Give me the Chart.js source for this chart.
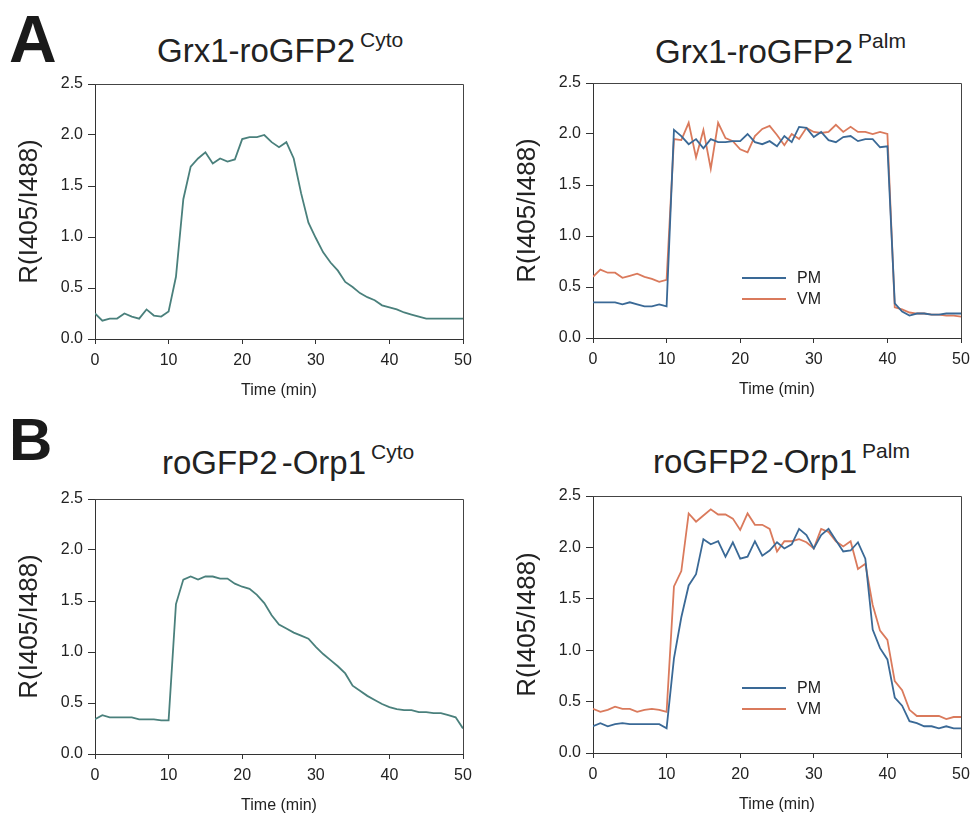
<!DOCTYPE html>
<html>
<head>
<meta charset="utf-8">
<script src="https://cdn.jsdelivr.net/npm/chart.js@4.4.1/dist/chart.umd.min.js"></script>
<style>
  body { margin: 0; background: #fff; width: 970px; height: 815px; position: relative; overflow: hidden;
         font-family: "Liberation Sans", Arial, sans-serif; color: #222; }
  canvas { position: absolute; }
  .letter { position: absolute; font-weight: bold; line-height: 1; color: #1a1a1a; }
  .title { position: absolute; font-size: 33px; line-height: 1; white-space: nowrap; color: #222; }
  .title span { font-size: 21px; position: relative; top: -15px; margin-left: 5px; }
  .tight { word-spacing: -5px; }
</style>
</head>
<body>
<div class="letter" style="left:9px; top:6px; font-size:66px;">A</div>
<div class="letter" style="left:9px; top:410px; font-size:60px;">B</div>

<div class="title" style="left:157px; top:34px;">Grx1-roGFP2<span>Cyto</span></div>
<div class="title" style="left:655px; top:35px;">Grx1-roGFP2<span>Palm</span></div>
<div class="title tight" style="left:162px; top:446px;">roGFP2 -Orp1<span>Cyto</span></div>
<div class="title tight" style="left:653px; top:445px;">roGFP2 -Orp1<span>Palm</span></div>

<canvas id="cA1" width="475" height="335" style="left:0px; top:74px;"></canvas>
<canvas id="cA2" width="472" height="335" style="left:498px; top:73px;"></canvas>
<canvas id="cB1" width="475" height="335" style="left:0px; top:489px;"></canvas>
<canvas id="cB2" width="472" height="337" style="left:498px; top:486px;"></canvas>

<script>
// time points (min)
const times = [0,1,2,3,4,5,6,7,8,9,10,11,12,13,14,15,16,17,18,19,20,21,22,23,24,25,
  26,27,28,29,30,31,32,33,34,35,36,37,38,39,40,41,42,43,44,45,46,47,48,49,50];

const xTicks = [0, 10, 20, 30, 40, 50];
const yTicks = [0, 0.5, 1.0, 1.5, 2.0, 2.5];

// Grx1-roGFP2 Cyto
const grxCyto = [0.25,0.18,0.20,0.20,0.25,0.22,0.20,0.29,0.23,0.22,0.27,
  0.61,1.37,1.69,1.77,1.83,1.72,1.77,1.74,1.76,1.96,
  1.98,1.98,2.00,1.93,1.88,1.93,1.77,1.43,1.14,0.99,
  0.85,0.75,0.67,0.56,0.51,0.45,0.41,0.38,0.33,0.31,
  0.29,0.26,0.24,0.22,0.20,0.20,0.20,0.20,0.20,0.20];

// Grx1-roGFP2 Palm
const grxPM = [0.35,0.35,0.35,0.35,0.33,0.35,0.33,0.31,0.31,0.33,0.31,
  2.04,1.98,1.90,1.95,1.86,1.95,1.92,1.92,1.93,1.93,
  2.00,1.92,1.90,1.93,1.88,1.98,1.92,2.07,2.06,1.97,
  2.02,1.94,1.92,1.97,1.98,1.93,1.95,1.95,1.87,1.88,
  0.34,0.26,0.22,0.24,0.24,0.23,0.23,0.24,0.24,0.24];
const grxVM = [0.60,0.67,0.64,0.64,0.59,0.61,0.63,0.60,0.58,0.55,0.57,
  1.95,1.94,2.11,1.77,2.04,1.66,2.11,1.96,1.93,1.85,
  1.82,1.98,2.05,2.08,1.99,1.89,2.00,1.95,2.06,2.02,
  2.01,2.02,2.09,2.02,2.07,2.02,2.02,2.00,2.02,2.00,
  0.30,0.28,0.25,0.24,0.24,0.23,0.23,0.22,0.22,0.21];

// roGFP2-Orp1 Cyto
const orpCyto = [0.34,0.38,0.36,0.36,0.36,0.36,0.34,0.34,0.34,0.33,0.33,
  1.47,1.71,1.74,1.71,1.74,1.74,1.72,1.72,1.67,1.64,
  1.62,1.56,1.48,1.36,1.27,1.23,1.19,1.16,1.13,1.05,
  0.98,0.92,0.86,0.79,0.67,0.62,0.57,0.53,0.49,0.46,
  0.44,0.43,0.43,0.41,0.41,0.40,0.40,0.38,0.36,0.25];

// roGFP2-Orp1 Palm
const orpPM = [0.26,0.29,0.26,0.28,0.29,0.28,0.28,0.28,0.28,0.28,0.24,
  0.92,1.32,1.63,1.74,2.08,2.03,2.06,1.91,2.05,1.89,
  1.91,2.06,1.92,1.97,2.05,1.99,2.03,2.18,2.12,1.99,
  2.12,2.18,2.07,1.96,1.97,2.05,1.89,1.20,1.02,0.91,
  0.54,0.46,0.31,0.29,0.26,0.26,0.24,0.26,0.24,0.24];
const orpVM = [0.43,0.40,0.42,0.45,0.43,0.43,0.40,0.42,0.43,0.42,0.40,
  1.62,1.77,2.33,2.25,2.31,2.37,2.32,2.32,2.28,2.17,
  2.33,2.22,2.22,2.18,1.96,2.06,2.06,2.08,2.05,1.99,
  2.18,2.15,2.06,2.01,2.06,1.79,1.84,1.44,1.19,1.10,
  0.70,0.61,0.42,0.36,0.36,0.36,0.36,0.33,0.35,0.35];

const TEAL = '#4a807c', BLUE = '#3a6996', ORANGE = '#da7a5c';
const FONT = '"Liberation Sans", Arial, sans-serif';

function pts(vals) {
  return vals.map((v, i) => ({ x: times[i], y: v }));
}

// top + right edges of the plot box
const boxPlugin = {
  id: 'box',
  afterDraw(chart) {
    const { ctx, chartArea: a } = chart;
    ctx.save();
    ctx.strokeStyle = '#444';
    ctx.lineWidth = 1;
    ctx.beginPath();
    ctx.moveTo(a.left, a.top + 0.5);
    ctx.lineTo(a.right + 0.5, a.top + 0.5);
    ctx.lineTo(a.right + 0.5, a.bottom);
    ctx.stroke();
    ctx.restore();
  }
};

// small legend placed inside the plot
const innerLegend = {
  id: 'innerLegend',
  afterDraw(chart, args, opts) {
    if (!opts.show) return;
    const { ctx, chartArea: a } = chart;
    ctx.save();
    ctx.font = '16px ' + FONT;
    ctx.textBaseline = 'middle';
    chart.data.datasets.forEach((ds, i) => {
      const y = a.top + opts.y + i * 21;
      ctx.strokeStyle = ds.borderColor;
      ctx.lineWidth = 2;
      ctx.beginPath();
      ctx.moveTo(a.left + 149, y);
      ctx.lineTo(a.left + 193, y);
      ctx.stroke();
      ctx.fillStyle = '#222';
      ctx.fillText(ds.label, a.left + 204, y + 1);
    });
    ctx.restore();
  }
};

function makeChart(id, datasets, rightPad, legendY) {
  new Chart(document.getElementById(id), {
    type: 'line',
    data: {
      datasets: datasets.map(d => ({
        label: d.label,
        data: pts(d.values),
        borderColor: d.color,
        borderWidth: 1.8,
        pointRadius: 0,
        tension: 0,
        fill: false
      }))
    },
    options: {
      responsive: false,
      animation: false,
      devicePixelRatio: 1,
      layout: { padding: { top: 10, right: rightPad, left: 0, bottom: 0 } },
      plugins: {
        legend: { display: false },
        tooltip: { enabled: false },
        innerLegend: { show: legendY !== null, y: legendY }
      },
      scales: {
        x: {
          type: 'linear',
          min: 0, max: 50,
          afterBuildTicks: s => { s.ticks = xTicks.map(v => ({ value: v })); },
          afterFit: s => { s.height = 70; s.paddingLeft = 0; s.paddingRight = 0; },
          grid: { drawOnChartArea: false, tickLength: 5, color: '#333' },
          border: { color: '#333', width: 1 },
          ticks: { color: '#222', font: { family: FONT, size: 16 }, padding: 7, maxRotation: 0 },
          title: { display: true, text: 'Time (min)', color: '#222',
                   font: { family: FONT, size: 16 }, padding: { top: 0, bottom: 9 } }
        },
        y: {
          min: 0, max: 2.5,
          afterBuildTicks: s => { s.ticks = yTicks.map(v => ({ value: v })); },
          afterFit: s => { s.width = 95; s.paddingTop = 0; s.paddingBottom = 0; },
          grid: { drawOnChartArea: false, tickLength: 7, color: '#333' },
          border: { color: '#333', width: 1 },
          ticks: { color: '#222', font: { family: FONT, size: 16 }, padding: 5,
                   callback: v => v.toFixed(1) },
          title: { display: true, text: 'R(I405/I488)', color: '#222',
                   font: { family: FONT, size: 26 }, padding: { top: 14, bottom: 0 } }
        }
      }
    },
    plugins: [boxPlugin, innerLegend]
  });
}

makeChart('cA1', [{ label: 'Cyto', values: grxCyto, color: TEAL }], 12, null);
makeChart('cA2', [{ label: 'PM', values: grxPM, color: BLUE },
                  { label: 'VM', values: grxVM, color: ORANGE }], 9, 195);
makeChart('cB1', [{ label: 'Cyto', values: orpCyto, color: TEAL }], 12, null);
makeChart('cB2', [{ label: 'PM', values: orpPM, color: BLUE },
                  { label: 'VM', values: orpVM, color: ORANGE }], 9, 192);
</script>
</body>
</html>
